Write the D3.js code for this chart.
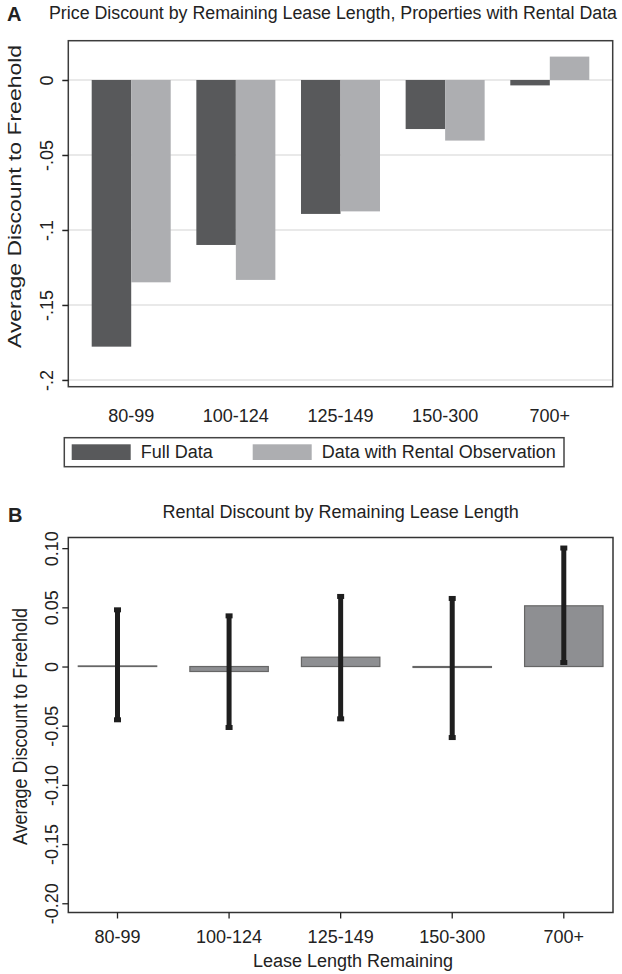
<!DOCTYPE html>
<html>
<head>
<meta charset="utf-8">
<script src="https://cdn.jsdelivr.net/npm/d3@7"></script>
<style>
  body { margin: 0; background: #fff; }
  svg text { font-family: "Liberation Sans", Arial, sans-serif; fill: #222; }
</style>
</head>
<body>
<div id="chart"></div>
<script>
// Lease length groups (shared by both panels)
var categories = ["80-99", "100-124", "125-149", "150-300", "700+"];

// Panel A: price discount
var seriesNames = ["Full Data", "Data with Rental Observation"];
var fullData = [-0.1778, -0.1100, -0.0893, -0.0327, -0.0036];
var rentalObsData = [-0.1349, -0.1333, -0.0876, -0.0404, 0.0156];
var yTicksA = [0, -0.05, -0.1, -0.15, -0.2];
var yTickLabelsA = ["0", "-.05", "-.1", "-.15", "-.2"];

// Panel B: rental discount with confidence bands
var rentalDiscount = [0.0005, -0.0042, 0.0079, -0.0008, 0.0513];
var ciLow = [-0.0450, -0.0515, -0.0442, -0.0600, 0.0034];
var ciHigh = [0.0479, 0.0428, 0.0592, 0.0575, 0.1001];
var yTicksB = [0.10, 0.05, 0, -0.05, -0.10, -0.15, -0.20];
var yTickLabelsB = ["0.10", "0.05", "0", "-0.05", "-0.10", "-0.15", "-0.20"];

var colors = ["#58595b", "#adaeb1"];

var svg = d3.select("#chart")
    .append("svg")
    .attr("width", 622)
    .attr("height", 974);

// ---------- Panel A ----------
var boxA = { left: 68.3, right: 612.7, top: 40.7, bottom: 386.7 };

svg.append("text")
    .attr("x", 7)
    .attr("y", 21)
    .attr("font-size", "20px")
    .attr("font-weight", "bold")
    .text("A");

svg.append("text")
    .attr("x", 49)
    .attr("y", 18.5)
    .attr("font-size", "18px")
    .attr("textLength", 568)
    .attr("lengthAdjust", "spacingAndGlyphs")
    .text("Price Discount by Remaining Lease Length, Properties with Rental Data");

var xA = d3.scaleBand()
    .domain(categories)
    .range([boxA.left, boxA.right])
    .paddingInner(0.245)
    .paddingOuter(0.2236);

var xInnerA = d3.scaleBand()
    .domain(seriesNames)
    .range([0, xA.bandwidth()]);

var yA = d3.scaleLinear()
    .domain([-0.2045, 0.0262])
    .range([boxA.bottom, boxA.top]);

// gridlines
svg.append("g").selectAll("line")
    .data(yTicksA)
    .enter()
    .append("line")
    .attr("x1", boxA.left)
    .attr("x2", boxA.right)
    .attr("y1", d => yA(d))
    .attr("y2", d => yA(d))
    .attr("stroke", "#e2e2e2")
    .attr("stroke-width", 1.6);

var groupsA = svg.append("g").selectAll("g")
    .data(categories)
    .enter()
    .append("g")
    .attr("transform", d => `translate(${xA(d)},0)`);

groupsA.selectAll("rect")
    .data((d, i) => [fullData[i], rentalObsData[i]].map((v, j) => ({ name: seriesNames[j], value: v })))
    .enter()
    .append("rect")
    .attr("x", d => xInnerA(d.name))
    .attr("width", xInnerA.bandwidth())
    .attr("y", d => yA(Math.max(0, d.value)))
    .attr("height", d => Math.abs(yA(d.value) - yA(0)))
    .attr("fill", (d, j) => colors[j]);

// frame
svg.append("rect")
    .attr("x", boxA.left)
    .attr("y", boxA.top)
    .attr("width", boxA.right - boxA.left)
    .attr("height", boxA.bottom - boxA.top)
    .attr("fill", "none")
    .attr("stroke", "#3c3c3c")
    .attr("stroke-width", 1.5);

var yAxisA = svg.append("g")
    .attr("transform", `translate(${boxA.left},0)`)
    .call(d3.axisLeft(yA).tickValues(yTicksA).tickSize(6).tickFormat((d, i) => yTickLabelsA[i]));
yAxisA.select(".domain").remove();
yAxisA.selectAll("line").attr("stroke", "#222").attr("stroke-width", 1.5);
yAxisA.selectAll("text")
    .attr("transform", "rotate(-90)")
    .attr("x", 0)
    .attr("y", -15)
    .attr("dy", 0)
    .attr("text-anchor", "middle")
    .attr("font-size", "18px")
    .attr("font-family", null)
    .attr("fill", "#222");

var xAxisA = svg.append("g")
    .attr("transform", `translate(0,${boxA.bottom})`)
    .call(d3.axisBottom(xA).tickSize(0));
xAxisA.select(".domain").remove();
xAxisA.selectAll("text")
    .attr("y", 35)
    .attr("dy", 0)
    .attr("font-size", "18px")
    .attr("font-family", null)
    .attr("fill", "#222");

svg.append("text")
    .attr("transform", "translate(21,196.5) rotate(-90)")
    .attr("text-anchor", "middle")
    .attr("font-size", "18px")
    .attr("textLength", 303)
    .attr("lengthAdjust", "spacingAndGlyphs")
    .text("Average Discount to Freehold");

// legend
var legend = svg.append("g");
legend.append("rect")
    .attr("x", 64.3)
    .attr("y", 437.7)
    .attr("width", 499.7)
    .attr("height", 29)
    .attr("fill", "#fff")
    .attr("stroke", "#444")
    .attr("stroke-width", 1.5);

var legendX = [71.7, 252.7];
var legendItems = legend.selectAll("g.item")
    .data(seriesNames)
    .enter()
    .append("g")
    .attr("class", "item")
    .attr("transform", (d, i) => `translate(${legendX[i]},444.3)`);
legendItems.append("rect")
    .attr("width", 59)
    .attr("height", 15.7)
    .attr("fill", (d, i) => colors[i]);
legendItems.append("text")
    .attr("x", 69)
    .attr("y", 14)
    .attr("font-size", "18px")
    .text(d => d);

// ---------- Panel B ----------
var boxB = { left: 68.3, right: 613, top: 537.5, bottom: 912.5 };

svg.append("text")
    .attr("x", 8)
    .attr("y", 522)
    .attr("font-size", "20px")
    .attr("font-weight", "bold")
    .text("B");

svg.append("text")
    .attr("x", (boxB.left + boxB.right) / 2)
    .attr("y", 517.5)
    .attr("text-anchor", "middle")
    .attr("font-size", "18px")
    .text("Rental Discount by Remaining Lease Length");

var xB = d3.scaleBand()
    .domain(categories)
    .range([boxB.left, boxB.right])
    .paddingInner(0.297)
    .paddingOuter(0.0895);

var yB = d3.scaleLinear()
    .domain([-0.2078, 0.109])
    .range([boxB.bottom, boxB.top]);

var barData = categories.map((c, i) => ({
    cat: c, value: rentalDiscount[i], lo: ciLow[i], hi: ciHigh[i]
}));

svg.append("g").selectAll("rect")
    .data(barData)
    .enter()
    .append("rect")
    .attr("x", d => xB(d.cat))
    .attr("width", xB.bandwidth())
    .attr("y", d => yB(Math.max(0, d.value)))
    .attr("height", d => Math.max(0.5, Math.abs(yB(d.value) - yB(0))))
    .attr("fill", "#8e8f92")
    .attr("stroke", "#666")
    .attr("stroke-width", 1.2);

var errG = svg.append("g").selectAll("g")
    .data(barData)
    .enter()
    .append("g")
    .attr("transform", d => `translate(${xB(d.cat) + xB.bandwidth() / 2},0)`);

errG.append("line")
    .attr("y1", d => yB(d.hi))
    .attr("y2", d => yB(d.lo))
    .attr("stroke", "#1e1e1e")
    .attr("stroke-width", 5);

errG.selectAll("rect.cap")
    .data(d => [d.hi, d.lo])
    .enter()
    .append("rect")
    .attr("class", "cap")
    .attr("x", -3.5)
    .attr("width", 7)
    .attr("y", d => yB(d) - 2.5)
    .attr("height", 5)
    .attr("fill", "#1e1e1e");

svg.append("rect")
    .attr("x", boxB.left)
    .attr("y", boxB.top)
    .attr("width", boxB.right - boxB.left)
    .attr("height", boxB.bottom - boxB.top)
    .attr("fill", "none")
    .attr("stroke", "#333")
    .attr("stroke-width", 1.5);

var yAxisB = svg.append("g")
    .attr("transform", `translate(${boxB.left},0)`)
    .call(d3.axisLeft(yB).tickValues(yTicksB).tickSize(6).tickFormat((d, i) => yTickLabelsB[i]));
yAxisB.select(".domain").remove();
yAxisB.selectAll("line").attr("stroke", "#222").attr("stroke-width", 1.3);
yAxisB.selectAll("text")
    .attr("transform", "rotate(-90)")
    .attr("x", 0)
    .attr("y", -10)
    .attr("dy", 0)
    .attr("text-anchor", "middle")
    .attr("font-size", "18px")
    .attr("font-family", null)
    .attr("fill", "#222");

var xAxisB = svg.append("g")
    .attr("transform", `translate(0,${boxB.bottom})`)
    .call(d3.axisBottom(xB).tickSize(6));
xAxisB.select(".domain").remove();
xAxisB.selectAll("line").attr("stroke", "#222").attr("stroke-width", 1.3);
xAxisB.selectAll("text")
    .attr("y", 30.5)
    .attr("dy", 0)
    .attr("font-size", "18px")
    .attr("font-family", null)
    .attr("fill", "#222");

svg.append("text")
    .attr("x", 353)
    .attr("y", 967)
    .attr("text-anchor", "middle")
    .attr("font-size", "18px")
    .text("Lease Length Remaining");

svg.append("text")
    .attr("transform", "translate(27,726.5) rotate(-90)")
    .attr("text-anchor", "middle")
    .attr("font-size", "20px")
    .attr("textLength", 237)
    .attr("lengthAdjust", "spacingAndGlyphs")
    .text("Average Discount to Freehold");
</script>
</body>
</html>
